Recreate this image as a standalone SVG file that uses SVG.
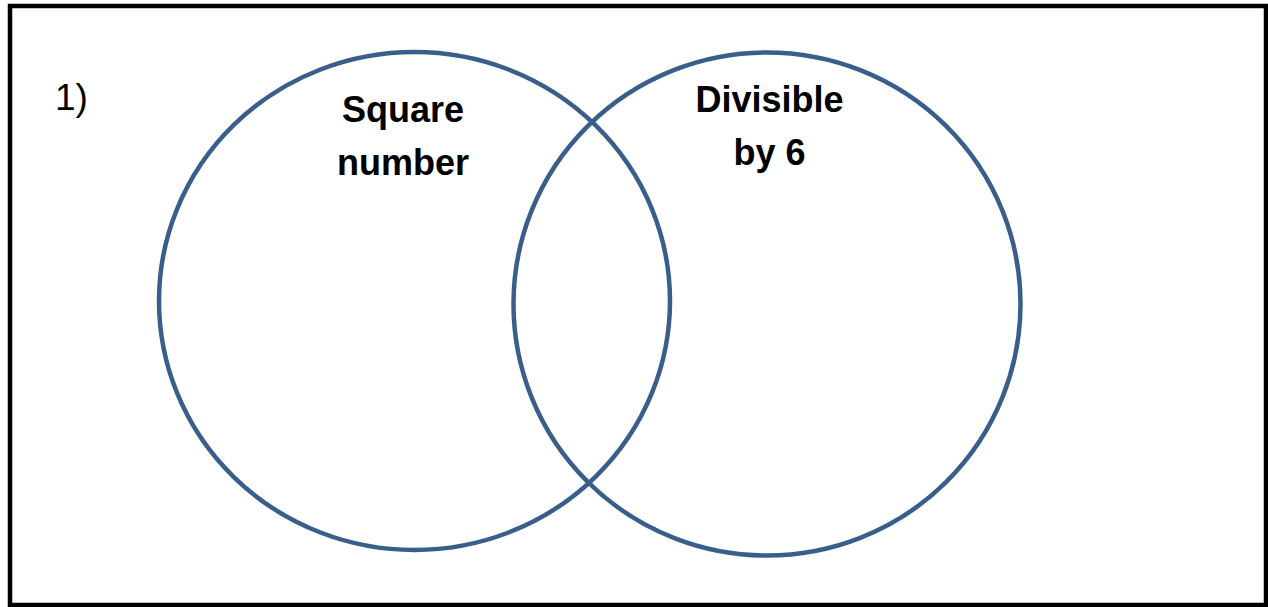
<svg xmlns="http://www.w3.org/2000/svg" width="1268" height="607" viewBox="0 0 1268 607">
  <style>
    .set { fill: none; stroke: #3A5E8C; stroke-width: 4.5; }
    .lbl { font-family: "Liberation Sans", Arial, sans-serif; font-weight: bold; font-size: 36px; fill: #000; text-anchor: middle; }
    .num { font-family: "Liberation Sans", Arial, sans-serif; font-size: 37px; fill: #000; }
  </style>
  <rect x="0" y="0" width="1268" height="607" fill="#fff"/>
  <rect id="frame" x="10" y="6" width="1256" height="599" fill="none" stroke="#000" stroke-width="4.5"/>
  <text id="qnum" class="num" x="55" y="110">1)</text>
  <g id="set-square">
    <ellipse class="set" cx="414.5" cy="301" rx="255.5" ry="249"/>
    <text class="lbl" x="403" y="122">Square</text>
    <text class="lbl" x="403" y="175">number</text>
  </g>
  <g id="set-div6">
    <ellipse class="set" cx="767" cy="304" rx="253.5" ry="251.5"/>
    <text class="lbl" x="769.5" y="112">Divisible</text>
    <text class="lbl" x="769.5" y="165">by 6</text>
  </g>
  <g id="connectors"/>
</svg>
